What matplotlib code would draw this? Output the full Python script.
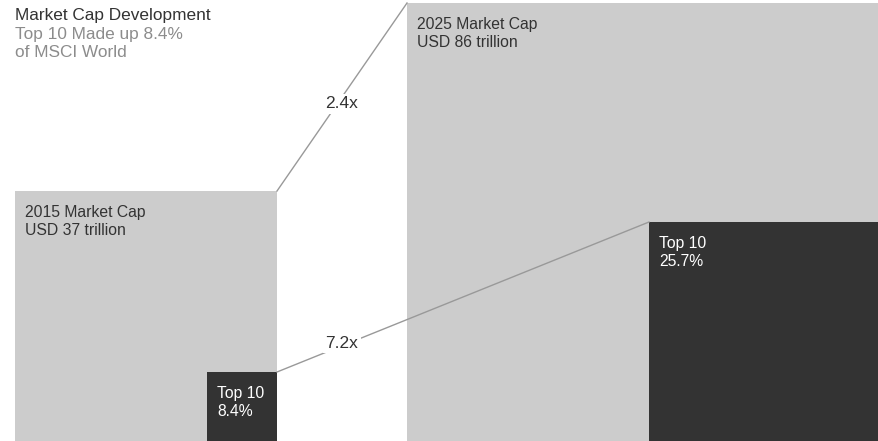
import matplotlib.pyplot as plt
from matplotlib.patches import Rectangle

# Chart data
years = ["2015", "2025"]
market_cap = [37, 86]          # USD trillion
top10_share = [8.4, 25.7]      # % of MSCI World
growth_labels = ["2.4x", "7.2x"]  # total cap growth, top-10 growth

# Layout (pixel space, y measured from the top of the image)
W, H = 879, 441
outer_x = [15, 407]
outer_w = [262, 474]
outer_top = [191, 3]
inner_w = [70, 230]
inner_top = [372, 222]

LIGHT = "#cccccc"
DARK = "#333333"
LINE = "#999999"

plt.rcParams["font.family"] = ["Liberation Sans", "DejaVu Sans"]

fig = plt.figure(figsize=(W / 100, H / 100), dpi=100)
ax = fig.add_axes([0, 0, 1, 1])
ax.set_xlim(0, W)
ax.set_ylim(H, 0)
ax.axis("off")

for i in range(len(years)):
    # whole market cap square
    ax.add_patch(Rectangle((outer_x[i], outer_top[i]), outer_w[i], H - outer_top[i],
                           facecolor=LIGHT, edgecolor="none", zorder=1))
    # top 10 square anchored to the right edge of the big square
    right = outer_x[i] + outer_w[i] if i == 0 else W
    ax.add_patch(Rectangle((right - inner_w[i], inner_top[i]), inner_w[i], H - inner_top[i],
                           facecolor=DARK, edgecolor="none", zorder=2))
    ax.text(outer_x[i] + 10, outer_top[i] + 14,
            f"{years[i]} Market Cap\nUSD {market_cap[i]} trillion",
            fontsize=11.3, color="#333333", va="top", ha="left", linespacing=1.22, zorder=3)
    ax.text(right - inner_w[i] + 10, inner_top[i] + 14,
            f"Top 10\n{top10_share[i]}%",
            fontsize=11.3, color="white", va="top", ha="left", linespacing=1.22, zorder=3)

# connector lines
x0 = outer_x[0] + outer_w[0]
x1 = outer_x[1]
ax.plot([x0, x1], [outer_top[0], outer_top[1]], color=LINE, lw=1.0, zorder=4)
x1b = W - inner_w[1]
ax.plot([x0, x1b], [inner_top[0], inner_top[1]], color=LINE, lw=1.0, zorder=4)

box = dict(facecolor="white", edgecolor="none", pad=1.5)
ax.text(342, 104, growth_labels[0], fontsize=12.5, color="#333333",
        ha="center", va="center", bbox=box, zorder=5)
ax.text(342, 343, growth_labels[1], fontsize=12.5, color="#333333",
        ha="center", va="center", bbox=box, zorder=5)

# title block
ax.text(15, 8, "Market Cap Development", fontsize=12.4, color="#333333",
        va="top", ha="left")
ax.text(15, 27, f"Top 10 Made up {top10_share[0]}%\nof MSCI World", fontsize=12.4,
        color="#8c8c8c", va="top", ha="left", linespacing=1.29)

fig.savefig("out.png", dpi=100)
